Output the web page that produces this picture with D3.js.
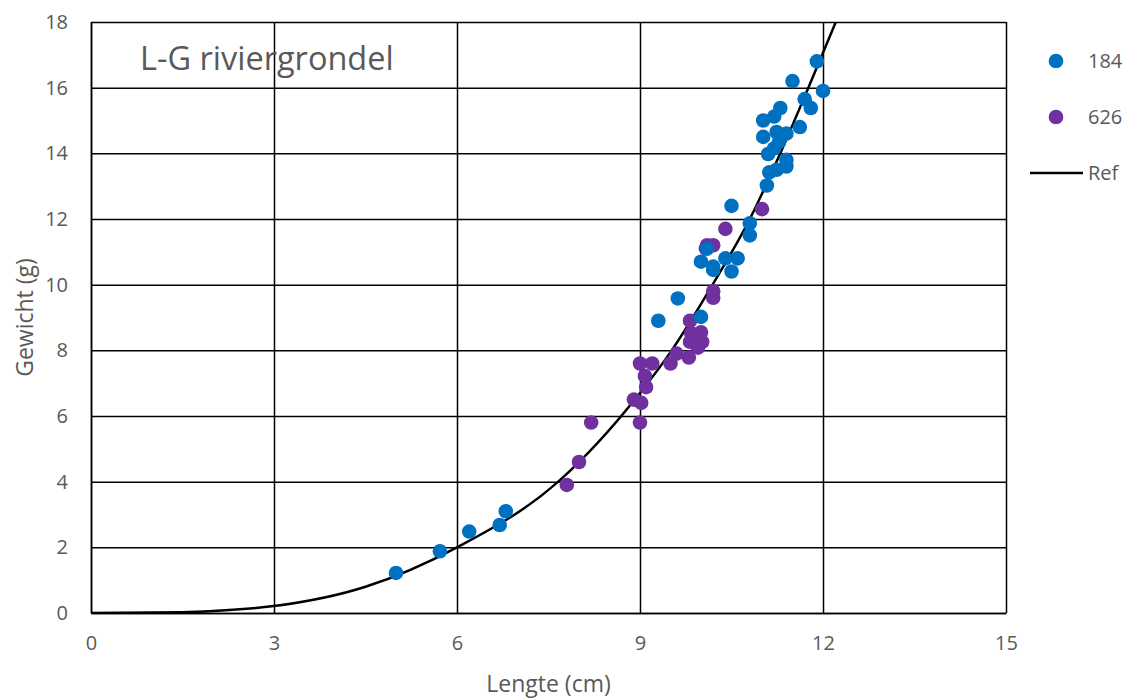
<!DOCTYPE html>
<html>
<head>
<meta charset="utf-8">
<script src="https://cdn.jsdelivr.net/npm/d3@7"></script>
<style>
  body { margin: 0; background: #fff; }
  text { font-family: "Open Sans", sans-serif; fill: #595959; }
</style>
</head>
<body>
<div id="chart"></div>
<script>
// length (cm) / weight (g) of the 184 sample
var len184 = [5.0, 5.72, 6.2, 6.7, 6.8, 9.3, 9.62, 10.0, 10.0, 10.2, 10.2, 10.4, 10.6, 10.5, 10.1,
    10.5, 10.8, 10.8, 11.08, 11.12, 11.24, 11.4, 11.4, 11.1, 11.2, 11.28, 11.02, 11.24, 11.4, 11.62,
    11.02, 11.2, 11.3, 11.7, 11.8, 11.5, 12.0, 11.9];
var gew184 = [1.22, 1.88, 2.48, 2.68, 3.1, 8.9, 9.58, 9.02, 10.7, 10.45, 10.55, 10.8, 10.8, 10.4, 11.1,
    12.4, 11.87, 11.5, 13.02, 13.42, 13.5, 13.6, 13.8, 13.98, 14.15, 14.35, 14.5, 14.65, 14.6, 14.8,
    15.0, 15.12, 15.38, 15.65, 15.38, 16.2, 15.9, 16.8];

// the 626 sample
var len626 = [7.8, 8.0, 8.2, 9.0, 8.9, 9.02, 9.1, 9.08, 9.0, 9.2, 9.5, 9.6, 9.8, 9.95, 10.02, 9.82,
    9.84, 10.0, 9.82, 10.2, 10.2, 10.08, 10.1, 10.2, 10.4, 11.0];
var gew626 = [3.9, 4.6, 5.8, 5.8, 6.5, 6.4, 6.88, 7.22, 7.6, 7.6, 7.6, 7.9, 7.78, 8.08, 8.26, 8.26,
    8.52, 8.55, 8.9, 9.6, 9.8, 11.1, 11.2, 11.2, 11.7, 12.3];

// reference curve
var refLen = [0, 1.5, 2, 3, 4.5, 6, 7.66, 9, 9.52, 10.19, 10.8, 11.3, 11.76, 12.21];
var refGew = [0, 0.025, 0.06, 0.21, 0.8, 2.0, 4.0, 6.7, 8, 10, 12, 14, 16, 18];

var xTicks = [0, 3, 6, 9, 12, 15];
var yTicks = [0, 2, 4, 6, 8, 10, 12, 14, 16, 18];

var margin = {top: 22, right: 125, bottom: 87, left: 91};
var width = 1131 - margin.left - margin.right;
var height = 700 - margin.top - margin.bottom;

var svg = d3.select("#chart").append("svg")
    .attr("width", 1131)
    .attr("height", 700);

var g = svg.append("g")
    .attr("transform", "translate(" + margin.left + "," + margin.top + ")");

var x_scale = d3.scaleLinear().domain([0, 15]).range([0, width]);
var y_scale = d3.scaleLinear().domain([0, 18]).range([height, 0]);

// gridlines + labels
var xAxis = g.append("g")
    .attr("transform", "translate(0," + height + ")")
    .call(d3.axisBottom(x_scale).tickValues(xTicks).tickSizeInner(-height).tickSizeOuter(0).tickPadding(23));
var yAxis = g.append("g")
    .call(d3.axisLeft(y_scale).tickValues(yTicks).tickSizeInner(-width).tickSizeOuter(0).tickPadding(23));

[xAxis, yAxis].forEach(function(a) {
    a.selectAll("line").attr("stroke", "#000").attr("stroke-width", 1.5);
    a.select(".domain").attr("stroke", "#000").attr("stroke-width", 1.5);
    a.selectAll("text").style("font-size", "20px").attr("fill", "#595959")
        .style("font-family", "'Open Sans', sans-serif");
});

// reference line
var refData = refLen.map(function(d, i) { return [d, refGew[i]]; });
g.append("clipPath").attr("id", "clip")
    .append("rect").attr("width", width).attr("height", height);
g.append("path")
    .datum(refData)
    .attr("clip-path", "url(#clip)")
    .attr("fill", "none")
    .attr("stroke", "#000")
    .attr("stroke-width", 2.5)
    .attr("d", d3.line()
        .curve(d3.curveMonotoneX)
        .x(function(d) { return x_scale(d[0]); })
        .y(function(d) { return y_scale(d[1]); }));

// the two samples
function drawDots(lens, gews, colour) {
    g.selectAll(null)
        .data(lens.map(function(d, i) { return [d, gews[i]]; }))
        .enter().append("circle")
        .attr("cx", function(d) { return x_scale(d[0]); })
        .attr("cy", function(d) { return y_scale(d[1]); })
        .attr("r", 7.3)
        .attr("fill", colour);
}
drawDots(len626, gew626, "#7030A0");
drawDots(len184, gew184, "#0070C0");

// title inside plot
g.append("text")
    .attr("x", 49)
    .attr("y", 48)
    .style("font-size", "32.5px")
    .text("L-G riviergrondel");

// axis titles
svg.append("text")
    .attr("x", margin.left + width / 2)
    .attr("y", 692)
    .attr("text-anchor", "middle")
    .style("font-size", "23px")
    .text("Lengte (cm)");

svg.append("text")
    .attr("text-anchor", "middle")
    .attr("transform", "translate(33," + (margin.top + height / 2) + ")rotate(-90)")
    .style("font-size", "23px")
    .text("Gewicht (g)");

// legend
var legend = svg.append("g");
legend.append("circle").attr("cx", 1056).attr("cy", 61).attr("r", 7.3).attr("fill", "#0070C0");
legend.append("text").attr("x", 1088).attr("y", 68).style("font-size", "20px").text("184");
legend.append("circle").attr("cx", 1056).attr("cy", 117).attr("r", 7.3).attr("fill", "#7030A0");
legend.append("text").attr("x", 1088).attr("y", 124).style("font-size", "20px").text("626");
legend.append("line").attr("x1", 1030).attr("x2", 1083).attr("y1", 173).attr("y2", 173)
    .attr("stroke", "#000").attr("stroke-width", 2.5);
legend.append("text").attr("x", 1088).attr("y", 180).style("font-size", "20px").text("Ref");
</script>
</body>
</html>
